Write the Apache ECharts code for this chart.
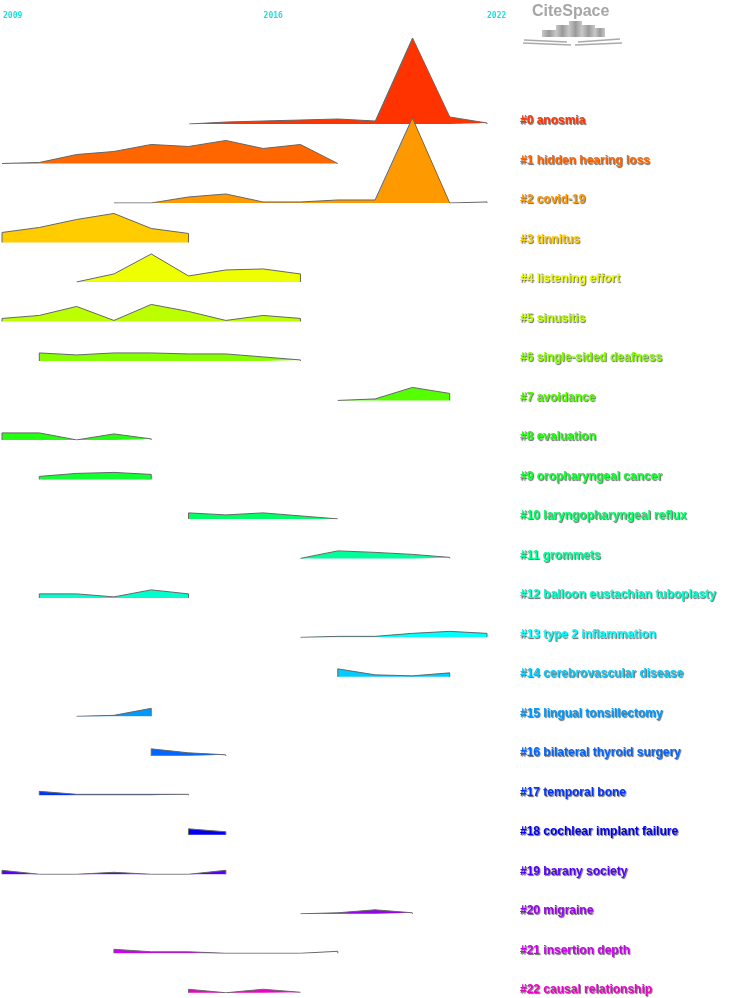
<!DOCTYPE html>
<html>
<head>
<meta charset="utf-8">
<script src="https://cdn.jsdelivr.net/npm/echarts@6/dist/echarts.min.js"></script>
<style>
    html, body { margin: 0; padding: 0; background: #fff; }
    #timeline { width: 748px; height: 998px; }
</style>
</head>
<body>
<div id="timeline"></div>
<script>
// cluster names (right column)
var clusterLabels = [
    '#0 anosmia', '#1 hidden hearing loss', '#2 covid-19', '#3 tinnitus',
    '#4 listening effort', '#5 sinusitis', '#6 single-sided deafness', '#7 avoidance',
    '#8 evaluation', '#9 oropharyngeal cancer', '#10 laryngopharyngeal reflux', '#11 grommets',
    '#12 balloon eustachian tuboplasty', '#13 type 2 inflammation', '#14 cerebrovascular disease',
    '#15 lingual tonsillectomy', '#16 bilateral thyroid surgery', '#17 temporal bone',
    '#18 cochlear implant failure', '#19 barany society', '#20 migraine',
    '#21 insertion depth', '#22 causal relationship'
];

// first year of each cluster's curve
var startYears = [2014, 2009, 2012, 2009, 2011, 2009, 2010, 2018, 2009, 2010, 2014, 2017,
    2010, 2017, 2018, 2011, 2013, 2010, 2014, 2009, 2017, 2012, 2014];

// yearly values of each cluster, beginning at its start year
var clusterValues = [
    [0, 2, 3, 4, 5, 3, 86, 7, 1],
    [1, 1, 9, 12, 19, 17, 23, 15, 19, 0],
    [1, 0, 6, 9, 1, 1, 3, 3, 85, 0, 1],
    [10, 15, 23, 29, 14, 9],
    [1, 8, 28, 6, 12, 13, 8],
    [3, 6, 15, 1, 17, 10, 1, 6, 3],
    [8, 6, 8, 8, 7, 7, 4, 1],
    [1.5, 1.5, 13, 7],
    [7, 7, 0, 6, 1],
    [3, 6, 7, 5],
    [6, 4, 6, 3, 0],
    [0, 7.5, 6, 4, 1],
    [4, 4, 1, 8, 4],
    [1, 1, 1, 4, 6, 4],
    [8, 2, 1, 4],
    [1, 1, 8],
    [7, 3, 1],
    [4, 1, 1, 1, 1],
    [6, 3],
    [4, 0, 0, 2, 0, 0, 4],
    [1, 1, 4, 1],
    [4, 1.5, 1.5, 0, 0, 0, 2],
    [3.5, 0, 3.5, 0.5]
];

// year labels on top
var yearTicks = [2009, 2016, 2022];

var clusterColors = [
    '#ff3300', '#ff6600', '#ff9900', '#ffcc00', '#eeff00', '#bbff00', '#88ff00', '#55ff00',
    '#22ff11', '#11ff33', '#00ff66', '#00ff99', '#00ffcc', '#00ffff', '#00ccff', '#0099ff',
    '#0066ff', '#0033ff', '#0000ee', '#5500ff', '#9900ee', '#cc00ee', '#ee00cc'
];

var firstBase = 124;
var rowGap = 39.49;
var rowHeight = 100;

var grids = [], xAxes = [], yAxes = [], series = [], graphics = [];

clusterLabels.forEach(function (label, i) {
    var base = firstBase + rowGap * i;
    grids.push({ left: 2, right: 261, top: base - rowHeight, height: rowHeight });
    xAxes.push({
        gridIndex: i,
        type: 'value',
        min: 2009,
        max: 2022,
        show: i === 0,
        position: 'top',
        axisLine: { show: false },
        axisTick: { show: false },
        splitLine: { show: false },
        axisLabel: {
            customValues: yearTicks,
            formatter: function (v) { return String(v); },
            align: 'left',
            margin: 4,
            color: '#22dede',
            fontSize: 8,
            fontWeight: 'bold',
            fontFamily: 'DejaVu Sans Mono'
        }
    });
    yAxes.push({ gridIndex: i, type: 'value', min: 0, max: 100, show: false });

    var start = startYears[i];
    var vals = clusterValues[i];
    var data = [[start, 0]];
    vals.forEach(function (v, k) {
        data.push([start + k, v]);
    });
    data.push([start + vals.length - 1, 0]);

    series.push({
        type: 'line',
        xAxisIndex: i,
        yAxisIndex: i,
        data: data,
        symbol: 'none',
        silent: true,
        lineStyle: { color: '#666', width: 1 },
        areaStyle: { color: clusterColors[i], opacity: 1 }
    });

    graphics.push({
        type: 'text',
        left: 520,
        top: base - 9,
        style: {
            text: label,
            fill: clusterColors[i],
            font: 'bold 12px "Liberation Sans", Arial, sans-serif',
            textShadowColor: 'rgba(0,0,0,0.6)',
            textShadowBlur: 1,
            textShadowOffsetX: 1,
            textShadowOffsetY: 1
        }
    });
});

// CiteSpace logo
graphics.push({
    type: 'text',
    left: 532,
    top: 4,
    style: { text: 'CiteSpace', fill: '#a6a6a6', font: 'bold 16px "Liberation Sans", Arial, sans-serif' }
});
var logoBars = [[542, 30, 14, 7], [556, 25, 13, 12], [569, 21, 13, 16], [582, 25, 13, 12], [595, 28, 10, 9]];
logoBars.forEach(function (b) {
    graphics.push({
        type: 'rect',
        shape: { x: b[0], y: b[1], width: b[2], height: b[3] },
        style: {
            fill: new echarts.graphic.LinearGradient(0, 0, 1, 0, [
                { offset: 0, color: '#c8c8c8' },
                { offset: 0.5, color: '#9a9a9a' },
                { offset: 1, color: '#c8c8c8' }
            ])
        }
    });
});
[[[524, 40], [567, 42]], [[523, 43], [571, 45]], [[578, 42], [620, 39]], [[575, 45], [622, 43]]].forEach(function (l) {
    graphics.push({
        type: 'polyline',
        shape: { points: l },
        style: { stroke: '#aaaaaa', lineWidth: 1.5, fill: null }
    });
});

var chart = echarts.init(document.getElementById('timeline'));
chart.setOption({
    animation: false,
    backgroundColor: '#ffffff',
    grid: grids,
    xAxis: xAxes,
    yAxis: yAxes,
    series: series,
    graphic: graphics
});
</script>
</body>
</html>
